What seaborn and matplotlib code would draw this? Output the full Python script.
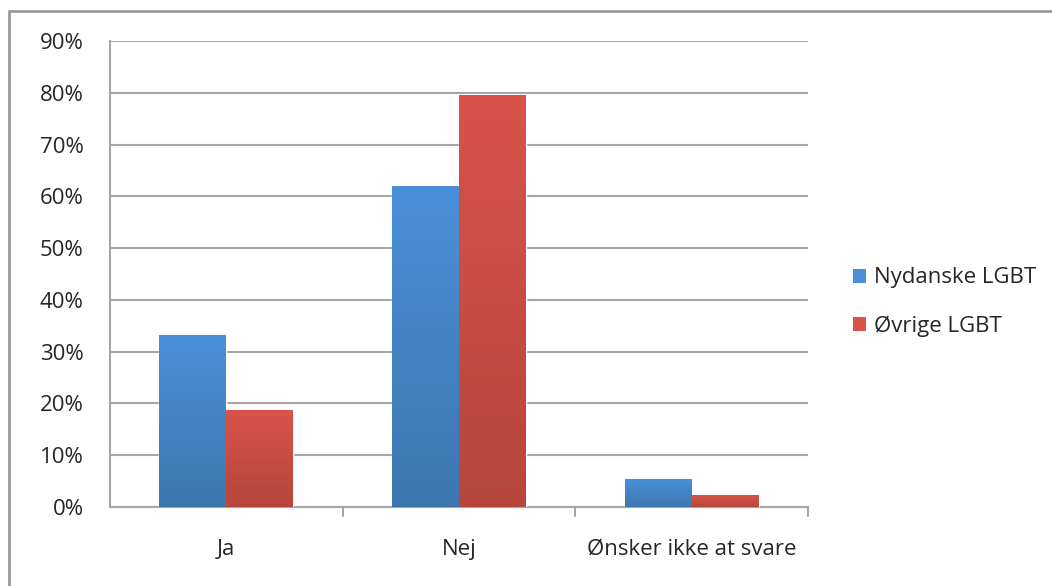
import numpy as np
import pandas as pd
import matplotlib
matplotlib.use("Agg")
import matplotlib.pyplot as plt
from matplotlib.lines import Line2D
from matplotlib.patches import Patch
import seaborn as sns

# data (shares of respondents)
categories = ["Ja", "Nej", "Ønsker ikke at svare"]
groups = ["Nydanske LGBT", "Øvrige LGBT"]
nydanske = [0.332, 0.620, 0.054]
ovrige = [0.187, 0.795, 0.023]
yticks = [0.0, 0.1, 0.2, 0.3, 0.4, 0.5, 0.6, 0.7, 0.8, 0.9]

df = pd.DataFrame({
    "svar": categories * 2,
    "gruppe": [groups[0]] * 3 + [groups[1]] * 3,
    "andel": nydanske + ovrige,
})

sns.set_style("white")
plt.rcParams["font.family"] = ["Open Sans", "DejaVu Sans"]

colors = {"Nydanske LGBT": "#4A90D9", "Øvrige LGBT": "#D9534A"}
dark = {"Nydanske LGBT": "#3D77B0", "Øvrige LGBT": "#B6463B"}
grid_c = "#A6A6A6"

fig = plt.figure(figsize=(10.52, 5.86), dpi=100)
ax = fig.add_axes([110 / 1052, 79 / 586, 698 / 1052, 466 / 586])

sns.barplot(data=df, x="svar", y="andel", hue="gruppe", palette=colors,
            width=0.575, ax=ax, legend=False, saturation=1, zorder=3)

# vertical gradient on each bar
for i, p in enumerate(ax.patches):
    g = groups[i // 3]
    x0, y0 = p.get_x(), p.get_y()
    w, h = p.get_width(), p.get_height()
    if h <= 0:
        continue
    top = np.array(matplotlib.colors.to_rgb(colors[g]))
    bot = np.array(matplotlib.colors.to_rgb(dark[g]))
    t = np.linspace(0, 1, 64)[:, None]
    grad = (bot * (1 - t) + top * t)[:, None, :]
    im = ax.imshow(grad, extent=[x0, x0 + w, y0, y0 + h], origin="lower",
                   aspect="auto", zorder=4, interpolation="bilinear")
    im.set_clip_path(p)

ax.set_xlim(-0.5, 2.5)
ax.set_ylim(0, 0.9)
ax.set_yticks(yticks)
ax.set_yticklabels([f"{int(round(v * 100))}%" for v in yticks], fontsize=16)
ax.set_xticks([0, 1, 2])
ax.set_xticklabels(categories, fontsize=16)
ax.set_xlabel("")
ax.set_ylabel("")
ax.tick_params(axis="x", length=0, pad=23)
ax.tick_params(axis="y", length=7, color=grid_c, width=1.5, pad=12, direction="out")
ax.yaxis.grid(True, color=grid_c, linewidth=1.5, zorder=0)
ax.set_axisbelow(True)

for s in ["top", "right"]:
    ax.spines[s].set_visible(False)
ax.spines["left"].set_color(grid_c)
ax.spines["left"].set_linewidth(1.5)
ax.spines["bottom"].set_color(grid_c)
ax.spines["bottom"].set_linewidth(1.5)

# category boundary ticks on the x axis
for xb in [0.5, 1.5, 2.5]:
    ax.plot([xb, xb], [0, -0.018], color=grid_c, lw=1.5, clip_on=False, zorder=5)

handles = [Patch(facecolor=colors[g], edgecolor="none") for g in groups]
fig.legend(handles, groups, loc="center left",
           bbox_to_anchor=(842 / 1052, (586 - 302) / 586),
           frameon=False, fontsize=16, handlelength=0.6, handleheight=0.6,
           handletextpad=0.35, labelspacing=1.2, borderpad=0)

# outer chart border (top and left edges visible)
fig.add_artist(Line2D([9 / 1052, 1.0], [1 - 11 / 586, 1 - 11 / 586],
                      transform=fig.transFigure, color="#999999", lw=2))
fig.add_artist(Line2D([9 / 1052, 9 / 1052], [0, 1 - 11 / 586],
                      transform=fig.transFigure, color="#999999", lw=2))

fig.savefig("out.png", dpi=100)
